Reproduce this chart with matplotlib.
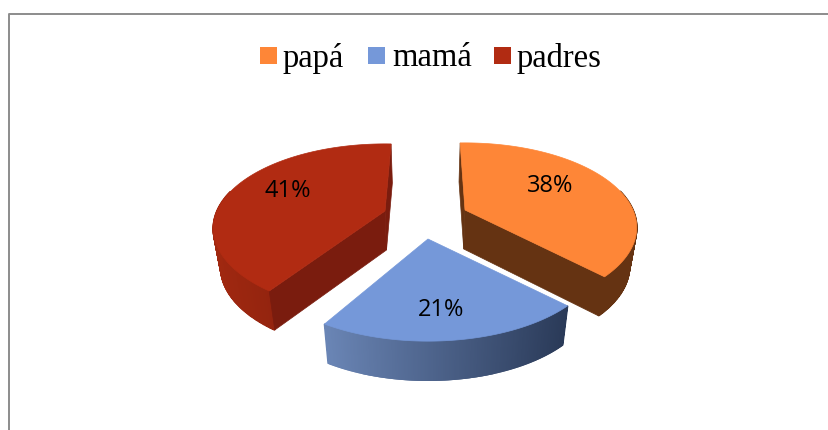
import numpy as np
import matplotlib
matplotlib.use("Agg")
import matplotlib.pyplot as plt
from matplotlib.patches import Polygon, Rectangle
from matplotlib.colors import LinearSegmentedColormap

labels = ["papá", "mamá", "padres"]
values = [38, 21, 41]
pct_labels = ["38%", "21%", "41%"]
top_colors = ["#FE8637", "#7598D9", "#B12B12"]
rim_colors = [
    ["#653312", "#653312"],
    ["#6A85B5", "#2A3A58"],
    ["#A02810", "#7A1C0C"],
]
cut_colors = ["#653312", "#2A3A58", "#7A1C0E"]

# pixel layout of the tilted pie
centers = [(465, 210), (428, 239), (385, 211)]
label_pos = [(550, 186), (441, 310), (288, 191)]
spin = [0, 0, -4.5]
RX, RY, TILT = 168, 81, 0.207
DEPTH = 39
START = 92
SHRINK = 0.965  # bottom plane is a bit narrower than the top one
MID_X = 428

fig = plt.figure(figsize=(8.29, 4.30), dpi=100)
ax = fig.add_axes([0, 0, 1, 1])
ax.set_xlim(0, 829)
ax.set_ylim(430, 0)
ax.axis("off")

# outer chart border, open at the bottom like the crop
ax.plot([9, 9, 829], [430, 14, 14], color="#8C8C8C", lw=1.4)

edges = START - np.cumsum([0] + values) * 3.6


def project(cx, cy, t):
    # perspective: the back of the pie is smaller than the front
    f = 1 + TILT * np.sin(t)
    return cx + RX * np.cos(t) / f, cy - RY * np.sin(t) / f


def lower(px, py):
    return MID_X + (px - MID_X) * SHRINK, py + DEPTH


for i in [2, 0, 1]:  # back to front
    cx, cy = centers[i]
    th = np.radians(np.linspace(edges[i], edges[i + 1], 240) + spin[i])
    x, y = project(cx, cy, th)

    # rim, only the front part shows
    cmap = LinearSegmentedColormap.from_list("rim", rim_colors[i])
    for j in range(len(th) - 1):
        if np.sin(th[j]) > 0.25:
            continue
        shade = cmap((x[j] - x.min()) / (x.max() - x.min()))
        ax.add_patch(Polygon([(x[j], y[j]), (x[j + 1], y[j + 1]),
                              lower(x[j + 1], y[j + 1]), lower(x[j], y[j])],
                             closed=True, fc=shade, ec=shade, lw=1.2, zorder=2))

    # cut faces: visible only when the slice lies above the cut
    mx, my = x[len(x) // 2], y[len(y) // 2]
    for px, py in [(x[0], y[0]), (x[-1], y[-1])]:
        if my < cy + (py - cy) / (px - cx) * (mx - cx):
            ax.add_patch(Polygon([(cx, cy), (px, py), lower(px, py), lower(cx, cy)],
                                 closed=True, fc=cut_colors[i], ec=cut_colors[i],
                                 lw=0.5, zorder=2.5))

    # top face
    ax.add_patch(Polygon(np.r_[[[cx, cy]], np.c_[x, y]], closed=True,
                         fc=top_colors[i], ec=top_colors[i], lw=0.5, zorder=3))
    ax.text(label_pos[i][0], label_pos[i][1], pct_labels[i], ha="center", va="center",
            fontsize=17, family="Open Sans", color="black", zorder=5)

# legend
swatch_x = [260, 368, 494]
text_x = [283, 392, 517]
for sx, tx, name, col in zip(swatch_x, text_x, labels, top_colors):
    ax.add_patch(Rectangle((sx, 47), 17, 17, fc=col, ec="none", zorder=4))
    ax.text(tx, 58, name, ha="left", va="center", fontsize=23.5,
            family="Liberation Serif", color="black")

fig.savefig("out.png", dpi=100)
